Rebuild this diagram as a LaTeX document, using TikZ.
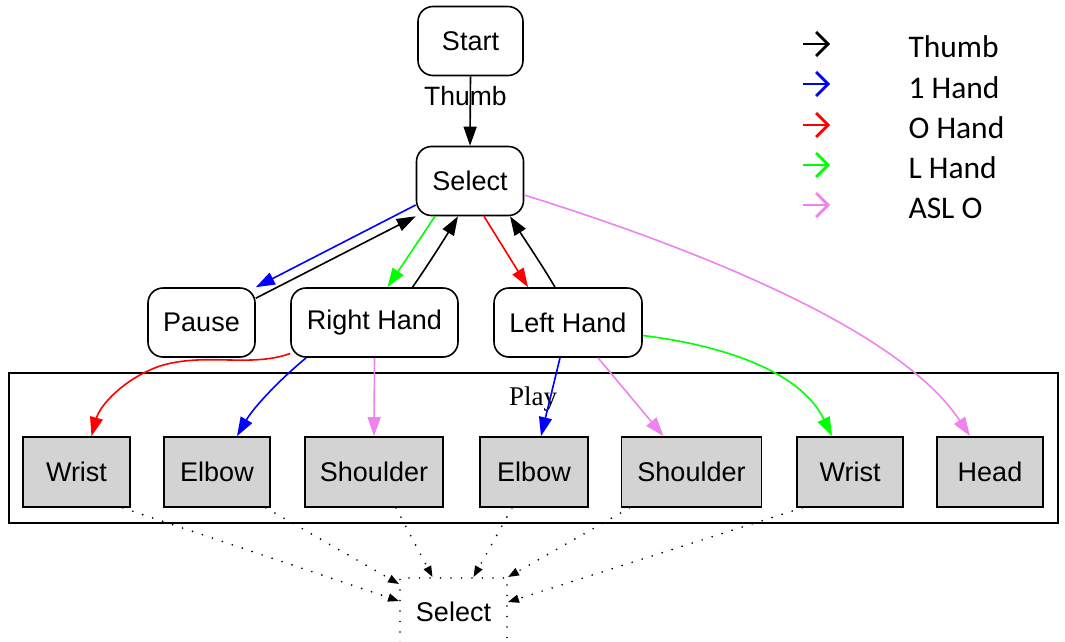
\documentclass[tikz,border=0pt]{standalone}
\usepackage{fontspec}
\setmainfont{Liberation Serif}
\newfontfamily\arialf{Liberation Sans}
\newfontfamily\calibf{Carlito}
\usetikzlibrary{arrows.meta,calc}
\definecolor{vio}{RGB}{238,130,238}
\definecolor{lgreen}{RGB}{0,255,0}
\definecolor{boxgray}{RGB}{211,211,211}

\begin{document}
\begin{tikzpicture}[x=1pt,y=-1pt,
  state/.style={draw, rounded corners=15pt, line width=1.6pt, minimum height=69pt,
                inner sep=0pt, font=\arialf\fontsize{27}{30}\selectfont},
  part/.style={draw, fill=boxgray, line width=1.7pt, minimum height=70pt,
               inner sep=0pt, font=\arialf\fontsize{27}{30}\selectfont},
  edge/.style={line width=1.6pt, -{Triangle[length=19pt,width=13pt]}},
  dotline/.style={line width=1.9pt, dash pattern=on 0pt off 10.5pt, line cap=round},
  dots/.style={dotline, -{Triangle[length=11pt,width=8pt]}},
  lbl/.style={font=\fontsize{27}{30}\selectfont},
  elbl/.style={font=\arialf\fontsize{26.5}{30}\selectfont},
  key/.style={line width=2.8pt, -{Straight Barb[length=12pt,width=24pt]}},
  keytext/.style={anchor=base west, font=\calibf\fontsize{31.5}{34}\selectfont}]

\useasboundingbox (0,0) rectangle (1065,641);

% upper states
\node[state, minimum width=105pt] (start) at (470.5,41) {Start};
\node[state, minimum width=107pt] (sel) at (470,181) {Select};
\node[state, minimum width=107pt] (pause) at (201.5,322.5) {Pause};
\node[state, minimum width=167pt] (rh) at (374.5,322.5) {Right Hand};
\node[state, minimum width=148pt] (lh) at (568,322.5) {Left Hand};

% cluster "Play"
\node[draw, line width=1.6pt, minimum width=1049pt, minimum height=150pt, inner sep=0pt] (play) at (533.5,448) {};
\node[lbl, anchor=base] (playlbl) at (533,405) {Play};

% body parts
\node[part, minimum width=107pt] (w1) at (76.5,472) {Wrist};
\node[part, minimum width=106pt] (e2) at (217,472) {Elbow};
\node[part, minimum width=138pt] (s3) at (374,472) {Shoulder};
\node[part, minimum width=108pt] (e4) at (534,472) {Elbow};
\node[part, minimum width=140pt] (s5) at (691.5,472) {Shoulder};
\node[part, minimum width=106pt] (w6) at (850,472) {Wrist};
\node[part, minimum width=106pt] (head) at (990,472) {Head};

% lower select
\node[draw, dotline, minimum width=107pt, minimum height=68pt, inner sep=0pt,
      font=\arialf\fontsize{27}{30}\selectfont] (bsel) at (453.5,612) {Select};

% start -> select
\draw[edge] (start.south) -- node[elbl, pos=0.29, xshift=-5pt, anchor=base, yshift=-9pt] {Thumb} (sel.north);

% select <-> pause
\draw[edge, blue] ([yshift=-24pt]sel.west) -- (pause.north east);
\draw[edge] ([yshift=-11pt]pause.north east) -- (sel.south west);

% select <-> right hand
\draw[edge, lgreen] ([xshift=-35pt]sel.south) -- ([xshift=13pt]rh.north);
\draw[edge] ([xshift=38pt]rh.north) .. controls (428,265) and (445,238) .. ([xshift=-12pt]sel.south);

% select <-> left hand
\draw[edge, red] ([xshift=14pt]sel.south) -- ([xshift=-40pt]lh.north);
\draw[edge] ([xshift=-13pt]lh.north) .. controls (542,265) and (525,240) .. ([xshift=40pt]sel.south);

% select -> head
\draw[edge, vio] ([yshift=-14pt]sel.east) .. controls (700,250) and (900,330) .. ([xshift=-20pt]head.north);

% right hand -> parts
\draw[edge, red] ([yshift=-31pt]rh.west) .. controls (250,368) and (205,352) .. (160,366)
  .. controls (125,378) and (100,405) .. ([xshift=15pt]w1.north);
\draw[edge, blue] ([xshift=16pt]rh.south west) .. controls (285,375) and (255,405) .. ([xshift=20pt]e2.north);
\draw[edge, vio] (rh.south) -- (s3.north);

% left hand -> parts
\draw[edge, blue] ([xshift=-8pt]lh.south) -- ([xshift=7pt]e4.north);
\draw[edge, vio] ([xshift=30pt]lh.south) -- ([xshift=-28pt]s5.north);
\draw[edge, lgreen] ([yshift=-13pt]lh.east) .. controls (720,345) and (800,370) .. ([xshift=-18pt]w6.north);

% parts -> lower select
\draw[dots] ([xshift=-8pt]w1.south east) -- ([yshift=-24pt]bsel.north west);
\draw[dots] ([xshift=-5pt]e2.south east) -- ([yshift=-7pt]bsel.north west);
\draw[dots] ([xshift=22pt]s3.south) -- ([xshift=-21pt]bsel.north);
\draw[dots] ([xshift=-22pt]e4.south) -- ([xshift=20pt]bsel.north);
\draw[dots] ([xshift=9pt]s5.south west) -- (bsel.north east);
\draw[dots] ([xshift=6pt]w6.south west) -- ([yshift=-25pt]bsel.north east);

% key
\node[keytext] (k1) at (905,57) {Thumb};
\node[keytext] (k2) at (905,98) {1 Hand};
\node[keytext] (k3) at (905,138) {O Hand};
\node[keytext] (k4) at (905,178) {L Hand};
\node[keytext] (k5) at (905,218) {ASL O};
\draw[key, black] (803,44) -- (830,44);
\draw[key, blue] (803,84) -- (830,84);
\draw[key, red] (803,125) -- (830,125);
\draw[key, lgreen] (803,165) -- (830,165);
\draw[key, vio] (803,205) -- (830,205);
\end{tikzpicture}
\end{document}
